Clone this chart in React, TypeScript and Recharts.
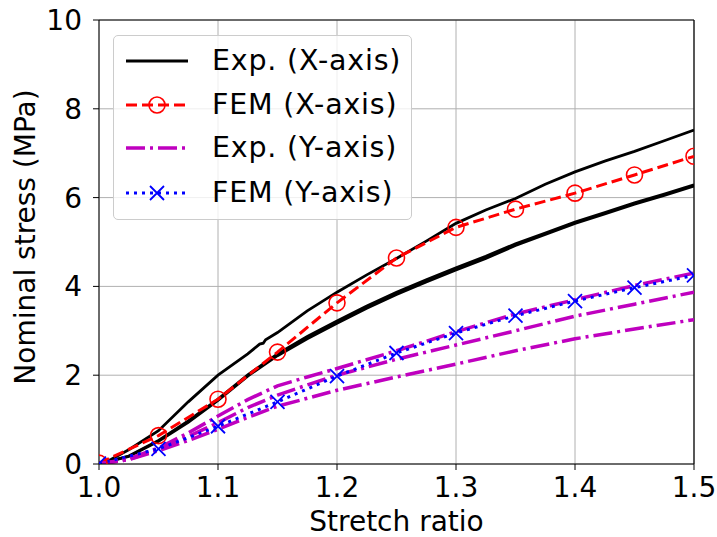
import React from 'react';
import { LineChart, Line, XAxis, YAxis, CartesianGrid, ReferenceLine, Legend } from 'recharts';

const FONT = '"DejaVu Sans", sans-serif';

const xTicks = [1.0, 1.1, 1.2, 1.3, 1.4, 1.5];
const yTicks = [0, 2, 4, 6, 8, 10];

// Exp. (X-axis): upper specimen
const expXUpperX = [1.0, 1.01, 1.025, 1.05, 1.075, 1.1, 1.125, 1.135, 1.138, 1.14, 1.15, 1.175, 1.2, 1.225, 1.25, 1.275, 1.3, 1.325, 1.35, 1.375, 1.4, 1.425, 1.45, 1.475, 1.5];
const expXUpperY = [0.0, 0.1, 0.32, 0.75, 1.4, 2.0, 2.48, 2.7, 2.72, 2.8, 2.96, 3.45, 3.87, 4.26, 4.63, 5.02, 5.42, 5.72, 5.98, 6.3, 6.58, 6.82, 7.04, 7.28, 7.52];

// Exp. (X-axis): two lower specimens (nearly overlapping)
const expXLowerX = [1.0, 1.025, 1.05, 1.075, 1.1, 1.125, 1.15, 1.175, 1.2, 1.225, 1.25, 1.275, 1.3, 1.325, 1.35, 1.375, 1.4, 1.425, 1.45, 1.475, 1.5];
const expXLowerAY = [0.0, 0.17, 0.51, 0.94, 1.43, 1.98, 2.44, 2.82, 3.17, 3.51, 3.82, 4.1, 4.37, 4.63, 4.92, 5.17, 5.42, 5.63, 5.85, 6.05, 6.26];
const expXLowerBY = [0.0, 0.18, 0.53, 0.97, 1.46, 2.01, 2.48, 2.87, 3.22, 3.56, 3.87, 4.15, 4.42, 4.68, 4.96, 5.2, 5.45, 5.66, 5.88, 6.08, 6.29];

// FEM points
const femX = [1.0, 1.05, 1.1, 1.15, 1.2, 1.25, 1.3, 1.35, 1.4, 1.45, 1.5];
const femXAxisY = [0.02, 0.64, 1.46, 2.52, 3.63, 4.64, 5.33, 5.74, 6.1, 6.51, 6.93];
const femYAxisY = [0.01, 0.34, 0.85, 1.4, 1.98, 2.5, 2.95, 3.34, 3.67, 3.97, 4.25];

// Exp. (Y-axis): three specimens
const expYX = [1.0, 1.025, 1.05, 1.075, 1.1, 1.125, 1.15, 1.175, 1.2, 1.25, 1.3, 1.35, 1.4, 1.45, 1.5];
const expYTopY = [0.0, 0.12, 0.36, 0.7, 1.08, 1.45, 1.76, 1.96, 2.15, 2.55, 2.98, 3.38, 3.7, 4.02, 4.3];
const expYMidY = [0.0, 0.1, 0.33, 0.62, 0.93, 1.27, 1.55, 1.78, 2.0, 2.36, 2.68, 3.0, 3.33, 3.6, 3.87];
const expYLowY = [0.0, 0.1, 0.3, 0.53, 0.78, 1.05, 1.3, 1.48, 1.66, 1.96, 2.25, 2.55, 2.82, 3.04, 3.25];

const toPoints = (xs: number[], ys: number[]) => xs.map((x, i) => ({ x, y: ys[i] }));

const RED = '#ff0000';
const BLUE = '#0000ff';
const MAGENTA = '#bf00bf';
const DASH_RED = '11 5';
const DASH_MAG = '19 5 3 5';
const DOT_BLUE = '3 5';

const legendItems = [
  { name: 'Exp. (X-axis)', color: '#000000', dash: undefined as string | undefined, width: 2.8, marker: 'none' },
  { name: 'FEM (X-axis)', color: RED, dash: DASH_RED, width: 3, marker: 'circle' },
  { name: 'Exp. (Y-axis)', color: MAGENTA, dash: DASH_MAG, width: 3.5, marker: 'none' },
  { name: 'FEM (Y-axis)', color: BLUE, dash: DOT_BLUE, width: 3, marker: 'x' },
];
const legendRows = [25, 69, 112, 157];

function CircleDot(props: any) {
  const { cx, cy, index } = props;
  return <circle key={`c-${index}`} cx={cx} cy={cy} r={8} fill="none" stroke={RED} strokeWidth={1.6} />;
}

function CrossDot(props: any) {
  const { cx, cy, index } = props;
  const s = 7;
  return (
    <path
      key={`x-${index}`}
      d={`M${cx - s},${cy - s}L${cx + s},${cy + s}M${cx - s},${cy + s}L${cx + s},${cy - s}`}
      stroke={BLUE}
      strokeWidth={1.8}
      fill="none"
    />
  );
}

function LegendBox() {
  return (
    <div
      style={{
        position: 'relative',
        width: 299,
        height: 185,
        boxSizing: 'border-box',
        border: '1px solid #cccccc',
        borderRadius: 5,
        background: 'rgba(255,255,255,0.8)',
        fontFamily: FONT,
        fontSize: 28.5,
        letterSpacing: 0.8,
        color: '#000',
      }}
    >
      {legendItems.map((it, i) => (
        <div key={it.name}>
          <svg
            width={66}
            height={20}
            style={{ position: 'absolute', left: 10, top: legendRows[i] - 10 }}
          >
            <line x1={2} y1={10} x2={64} y2={10} stroke={it.color} strokeWidth={it.width} strokeDasharray={it.dash} />
            {it.marker === 'circle' && <circle cx={33} cy={10} r={8} fill="none" stroke={RED} strokeWidth={1.6} />}
            {it.marker === 'x' && (
              <path d="M26,3L40,17M26,17L40,3" stroke={BLUE} strokeWidth={1.8} fill="none" />
            )}
          </svg>
          <div
            style={{
              position: 'absolute',
              left: 98,
              top: legendRows[i] - 18,
              lineHeight: '36px',
              whiteSpace: 'nowrap',
            }}
          >
            {it.name}
          </div>
        </div>
      ))}
    </div>
  );
}

export default function App() {
  const tickStyle = { fontSize: 28, fill: '#000', fontFamily: FONT };
  return (
    <div style={{ position: 'absolute', left: 0, top: 0, background: '#fff' }}>
      <LineChart width={717} height={537} margin={{ top: 20, right: 23, left: 0, bottom: 0 }}>
        <CartesianGrid stroke="#b0b0b0" strokeWidth={1} />
        <XAxis
          dataKey="x"
          type="number"
          domain={[1, 1.5]}
          ticks={xTicks}
          allowDataOverflow
          height={73}
          tickFormatter={(v: number) => v.toFixed(1)}
          tick={tickStyle}
          tickSize={6}
          tickMargin={7}
          stroke="#000"
          label={{
            content: () => (
              <text x={396.5} y={531} textAnchor="middle" fontFamily={FONT} fontSize={28} fill="#000">
                Stretch ratio
              </text>
            ),
          }}
        />
        <YAxis
          type="number"
          domain={[0, 10]}
          ticks={yTicks}
          allowDataOverflow
          width={99}
          tick={tickStyle}
          tickSize={6}
          tickMargin={11}
          stroke="#000"
          label={{
            content: () => (
              <text
                x={35}
                y={237}
                transform="rotate(-90, 35, 237)"
                textAnchor="middle"
                fontFamily={FONT}
                fontSize={28}
                fill="#000"
              >
                Nominal stress (MPa)
              </text>
            ),
          }}
        />
        <ReferenceLine y={10} stroke="#000" strokeWidth={1.2} />
        <ReferenceLine x={1.5} stroke="#000" strokeWidth={1.2} />

        <Line data={toPoints(expXUpperX, expXUpperY)} dataKey="y" type="linear" stroke="#000" strokeWidth={2.8} dot={false} isAnimationActive={false} legendType="none" />
        <Line data={toPoints(expXLowerX, expXLowerAY)} dataKey="y" type="linear" stroke="#000" strokeWidth={2.8} dot={false} isAnimationActive={false} legendType="none" />
        <Line data={toPoints(expXLowerX, expXLowerBY)} dataKey="y" type="linear" stroke="#000" strokeWidth={2.8} dot={false} isAnimationActive={false} legendType="none" />

        <Line data={toPoints(femX, femXAxisY)} dataKey="y" type="linear" stroke={RED} strokeWidth={3} strokeDasharray={DASH_RED} dot={CircleDot} isAnimationActive={false} legendType="none" />

        <Line data={toPoints(expYX, expYTopY)} dataKey="y" type="linear" stroke={MAGENTA} strokeWidth={3.5} strokeDasharray={DASH_MAG} dot={false} isAnimationActive={false} legendType="none" />
        <Line data={toPoints(expYX, expYMidY)} dataKey="y" type="linear" stroke={MAGENTA} strokeWidth={3.5} strokeDasharray={DASH_MAG} dot={false} isAnimationActive={false} legendType="none" />
        <Line data={toPoints(expYX, expYLowY)} dataKey="y" type="linear" stroke={MAGENTA} strokeWidth={3.5} strokeDasharray={DASH_MAG} dot={false} isAnimationActive={false} legendType="none" />

        <Line data={toPoints(femX, femYAxisY)} dataKey="y" type="linear" stroke={BLUE} strokeWidth={3} strokeDasharray={DOT_BLUE} dot={CrossDot} isAnimationActive={false} legendType="none" />

        <Legend
          layout="vertical"
          align="center"
          verticalAlign="middle"
          content={() => <LegendBox />}
          wrapperStyle={{ left: 113, top: 35, width: 299, height: 185 }}
        />
      </LineChart>
    </div>
  );
}
